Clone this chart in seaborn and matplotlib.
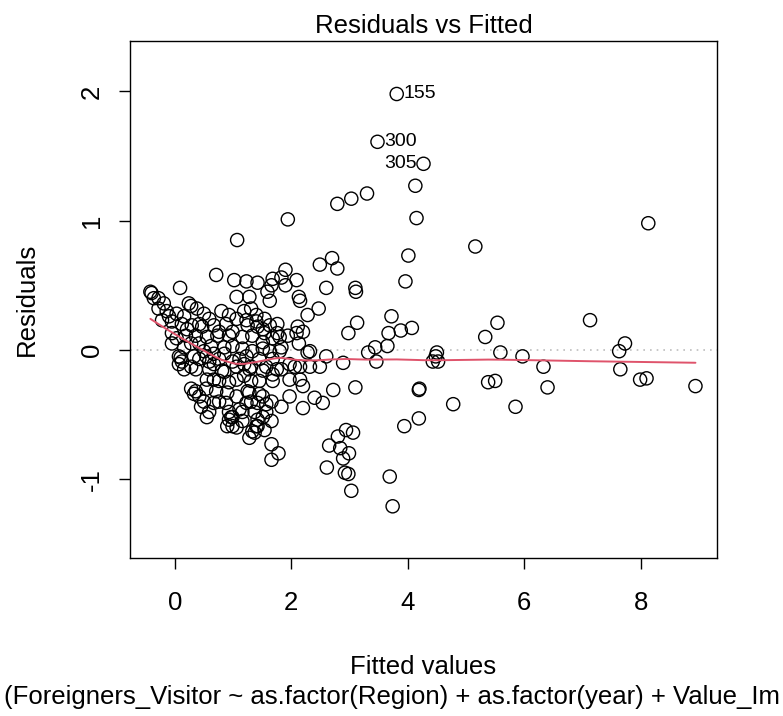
import numpy as np
import pandas as pd
import matplotlib
matplotlib.use("Agg")
import matplotlib.pyplot as plt
import seaborn as sns

# ---- data ----
fitted = [
    3.81, 3.48, 4.27, 4.13, 4.15, 5.16, 8.13, 4.01, 3.96, 4.07, 3.88, 4.50, 4.43, 4.52, 4.48,
    5.33, 5.54, 5.59, 5.97, 6.33, 7.13, 7.63, 7.73, 7.65, 7.99, 8.10, 8.94, 5.38, 5.50, 6.40,
    4.19, 4.20, 4.78, 5.85, 4.19, 3.94, 3.74, 3.69, 3.03,
    2.79, 3.03, 3.30, 1.94, 2.49, 2.70, 2.79, 1.90, 1.83, 2.09, 1.90, 1.68, 2.60, 3.10, 3.11,
    2.13, 2.15, 2.47, 2.28, 3.72, 3.13, 1.76, 2.11, 2.20, 2.98, 3.67, 1.80, 1.94, 1.83, 2.13,
    2.28, 3.32, 3.44, 3.65, 3.46, 2.89, 2.60, 2.49, 2.32, 2.15, 1.97, 1.83, 1.68, 1.97, 2.20,
    2.72, 3.10, 2.40, 2.54, 1.97, 1.83, 2.20, 1.66, 2.94, 3.06, 2.80, 2.65, 2.84, 2.99, 2.89,
    1.66, 1.78, 1.66, 2.61, 2.92, 2.98, 1.07,
    1.42, 1.23, 1.02, 1.06, 1.28, 1.59, 1.63, 1.31, 1.06, 1.23, 1.40, 1.51, 2.09, 1.76, 1.68,
    2.32, 0.99, 1.16, 1.33, 1.51, 0.99, 1.16, 1.33, 1.63, 1.80, 1.06, 1.31, 1.57, 2.06, 1.06,
    1.19, 1.45, 1.68, 2.15, 1.06, 1.28, 1.51, 1.11, 1.31, 1.57, 0.97, 1.16, 1.51, 0.99, 1.42,
    1.33, 1.28,
    -0.40, -0.36, -0.42, 0.09, 0.71, 1.66, 0.80, 0.93, 1.19, 1.40, 1.54, -0.28, -0.14, 0.03,
    0.28, 0.38, 0.50, -0.22, -0.05, 0.12, 0.29, 0.47, 0.67, 0.88, 1.25, 1.42, 1.63, -0.05,
    0.19, 0.36, 0.55, 0.73, 0.93, 1.54, -0.05, 0.42, 0.62, 0.85, 1.51, 0.07, 0.12, 0.33, 0.54,
    0.76, 0.99, 1.23, 1.45, 1.68, 0.36, 0.59, 0.81, 1.28, 1.51, 1.75, 0.36, 0.33, 0.42, 0.28,
    0.55, 0.76, 0.93, 1.31, 0.54, 0.71, 0.90, 1.25, 1.45, 0.50, 0.67, 0.88, 1.23, 1.42, 0.45,
    0.59, 0.93, 1.37, 1.57, 0.55, 0.93, 1.16, 1.42, 1.66, 0.90, 1.06, 1.40, 1.54, 1.37, 0.10,
    0.07, 0.28, 0.67, 0.85, 0.76, 0.99,
    -0.19, -0.10, 0.16, 0.21, 0.03, 0.28, 0.50, 0.67, 0.85, 0.42, 0.59, 1.11, 0.16, 0.42, 0.59,
    0.76, -0.28, 0.24, 0.16, 0.67, 1.19,
]
residuals = [
    1.98, 1.61, 1.44, 1.27, 1.02, 0.80, 0.98, 0.73, 0.53, 0.17, 0.15, -0.02, -0.09, -0.09, -0.05,
    0.10, 0.21, -0.02, -0.05, -0.13, 0.23, -0.01, 0.05, -0.15, -0.23, -0.22, -0.28, -0.25, -0.24, -0.29,
    -0.31, -0.30, -0.42, -0.44, -0.53, -0.59, -1.21, -0.98, -1.09,
    1.13, 1.17, 1.21, 1.01, 0.66, 0.71, 0.63, 0.62, 0.56, 0.54, 0.50, 0.55, 0.48, 0.48, 0.45,
    0.41, 0.38, 0.32, 0.27, 0.26, 0.21, 0.20, 0.18, 0.14, 0.13, 0.13, 0.10, 0.11, 0.02, 0.05,
    -0.02, -0.02, 0.02, 0.03, -0.09, -0.10, -0.05, -0.13, -0.13, -0.13, -0.11, -0.15, -0.19, -0.23, -0.28,
    -0.31, -0.29, -0.37, -0.41, -0.36, -0.44, -0.45, -0.40, -0.62, -0.64, -0.67, -0.74, -0.76, -0.80, -0.84,
    -0.73, -0.80, -0.85, -0.91, -0.95, -0.96, 0.85,
    0.52, 0.53, 0.54, 0.41, 0.41, 0.45, 0.38, 0.32, 0.24, 0.23, 0.22, 0.16, 0.13, 0.13, 0.09,
    -0.01, 0.14, 0.10, 0.11, 0.06, 0.03, 0.01, -0.01, -0.01, -0.01, -0.13, -0.13, -0.13, -0.13, -0.23,
    -0.20, -0.24, -0.24, -0.23, -0.36, -0.33, -0.36, -0.46, -0.40, -0.42, -0.52, -0.48, -0.52, -0.59, -0.59,
    -0.63, -0.68,
    0.44, 0.40, 0.45, 0.48, 0.58, 0.50, 0.30, 0.27, 0.30, 0.27, 0.24, 0.32, 0.30, 0.28,
    0.34, 0.32, 0.28, 0.23, 0.22, 0.20, 0.19, 0.18, 0.19, 0.20, 0.19, 0.18, 0.19, 0.13,
    0.11, 0.11, 0.10, 0.11, 0.11, 0.13, 0.05, 0.05, 0.03, 0.02, 0.01, -0.05, -0.09, -0.05, -0.05,
    -0.07, -0.09, -0.05, -0.07, -0.07, -0.15, -0.15, -0.16, -0.15, -0.16, -0.15, -0.32, -0.34, -0.36, -0.30,
    -0.23, -0.24, -0.25, -0.24, -0.30, -0.32, -0.33, -0.32, -0.34, -0.40, -0.41, -0.41, -0.41, -0.41, -0.44,
    -0.48, -0.48, -0.48, -0.48, -0.52, -0.54, -0.55, -0.54, -0.55, -0.59, -0.60, -0.59, -0.62, -0.64, -0.06,
    -0.11, -0.13, -0.23, -0.17, -0.40, -0.52,
    0.36, 0.26, 0.26, 0.16, 0.09, 0.05, -0.01, -0.03, -0.03, -0.07, -0.09, -0.07, 0.02, 0.20, 0.24,
    0.14, 0.40, 0.36, -0.15, -0.11, -0.11,
]

label_ids = ["155", "300", "305"]
label_fitted = [3.81, 3.48, 4.27]
label_resid = [1.98, 1.61, 1.44]
label_side = ["right", "right", "left"]

x_ticks = [0, 2, 4, 6, 8]
y_ticks = [-1, 0, 1, 2]

title = "Residuals vs Fitted"
x_label = "Fitted values"
y_label = "Residuals"
caption = "(Foreigners_Visitor ~ as.factor(Region) + as.factor(year) + Value_Im"

df = pd.DataFrame({"fitted": fitted, "resid": residuals})


def lowess(x, y, f=2 / 3, iters=3):
    x = np.asarray(x, float)
    y = np.asarray(y, float)
    order = np.argsort(x)
    x, y = x[order], y[order]
    n = len(x)
    r = int(np.ceil(f * n))
    h = np.array([np.sort(np.abs(x - x[i]))[r - 1] for i in range(n)])
    w = np.clip(np.abs((x[None, :] - x[:, None]) / h[:, None]), 0.0, 1.0)
    w = (1 - w ** 3) ** 3
    delta = np.ones(n)
    yest = np.zeros(n)
    for _ in range(iters + 1):
        for i in range(n):
            wt = delta * w[i]
            A = np.array([[wt.sum(), (wt * x).sum()], [(wt * x).sum(), (wt * x * x).sum()]])
            b = np.array([(wt * y).sum(), (wt * y * x).sum()])
            beta = np.linalg.solve(A, b)
            yest[i] = beta[0] + beta[1] * x[i]
        res = y - yest
        s = np.median(np.abs(res))
        d = np.clip(res / (6 * s), -1, 1)
        delta = (1 - d ** 2) ** 2
    return x, yest


sx, sy = lowess(df["fitted"], df["resid"])
smooth = pd.DataFrame({"fitted": sx, "smooth": sy})

sns.set_theme(style="white")
plt.rcParams["font.family"] = ["Liberation Sans", "DejaVu Sans"]
plt.rcParams["text.color"] = "black"
plt.rcParams["axes.labelcolor"] = "black"
plt.rcParams["xtick.color"] = "black"
plt.rcParams["ytick.color"] = "black"

W, H = 783, 716
fig = plt.figure(figsize=(W / 100, H / 100), dpi=100)
L, R, T, B = 130, 717, 41, 558
ax = fig.add_axes([L / W, 1 - B / H, (R - L) / W, (B - T) / H])

ax.axhline(0, color="#BEBEBE", lw=1.2, ls=(0, (1, 3)), zorder=1)
sns.scatterplot(data=df, x="fitted", y="resid", ax=ax, marker="o", s=90,
                facecolor="none", edgecolor="black", linewidth=1.0, zorder=3, legend=False)
sns.lineplot(data=smooth, x="fitted", y="smooth", ax=ax, color="#DF536B", lw=1.4,
             sort=True, estimator=None, zorder=4)

for lid, lx, ly, side in zip(label_ids, label_fitted, label_resid, label_side):
    off = 5 if side == "right" else -5
    ax.annotate(lid, (lx, ly), xytext=(off, 0), textcoords="offset points",
                ha="left" if side == "right" else "right", va="center", fontsize=14,
                color="black")

ax.set_xlim(-0.77, 9.31)
ax.set_ylim(-1.61, 2.39)
ax.set_xticks(x_ticks)
ax.set_yticks(y_ticks)
ax.set_xticklabels([str(v) for v in x_ticks], fontsize=18.5, color="black")
ax.set_yticklabels([str(v) for v in y_ticks], fontsize=18.5, rotation=90, va="center",
                   color="black")
ax.tick_params(axis="both", which="both", direction="out", length=8, width=1,
               color="black", bottom=True, left=True, top=False, right=False)
ax.tick_params(axis="x", pad=16)
ax.tick_params(axis="y", pad=11)
ax.set_xlabel("")
ax.set_ylabel("")
for sp in ax.spines.values():
    sp.set_color("black")
    sp.set_linewidth(1.0)
    sp.set_visible(True)

fig.text((L + R) / 2 / W, 1 - 26 / H, title, ha="center", va="center", fontsize=18.5)
fig.text((L + R) / 2 / W, 1 - 667 / H, x_label, ha="center", va="center", fontsize=18.5)
fig.text(0.5, 1 - 697 / H, caption, ha="center", va="center", fontsize=18.5)
fig.text(27 / W, 1 - 299 / H, y_label, ha="center", va="center", rotation=90, fontsize=18.5)

fig.savefig("out.png", dpi=100)
